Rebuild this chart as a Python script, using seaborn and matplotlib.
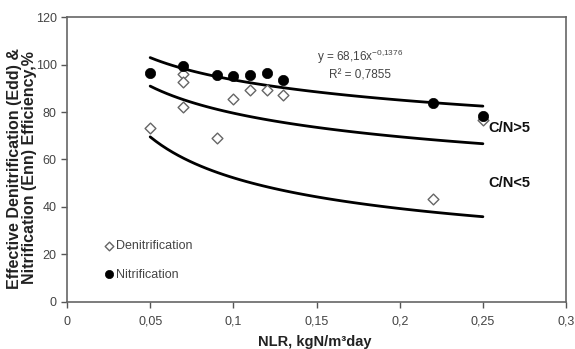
import numpy as np
import pandas as pd
import matplotlib
matplotlib.use("Agg")
import matplotlib.pyplot as plt
import seaborn as sns

# Data
nit_x = [0.05, 0.07, 0.09, 0.10, 0.11, 0.12, 0.13, 0.22, 0.25]
nit_y = [96.3, 99.6, 95.7, 95.0, 95.6, 96.4, 93.6, 83.8, 78.5]

den_x = [0.05, 0.07, 0.07, 0.07, 0.09, 0.10, 0.11, 0.12, 0.13, 0.22, 0.25]
den_y = [73.3, 96.2, 92.6, 82.3, 69.2, 85.6, 89.3, 89.3, 87.3, 43.2, 76.6]

# Power trendlines y = a * x^b  (top one from the printed equation)
trend_names = ["Nitrification fit", "C/N>5 fit", "C/N<5 fit"]
trend_a = [68.16, 51.0, 20.3]
trend_b = [-0.1376, -0.193, -0.411]
trend_x0 = [0.05, 0.05, 0.05]
trend_x1 = [0.25, 0.25, 0.25]

x_ticks = [0, 0.05, 0.1, 0.15, 0.2, 0.25, 0.3]
x_tick_labels = ["0", "0,05", "0,1", "0,15", "0,2", "0,25", "0,3"]
y_ticks = [0, 20, 40, 60, 80, 100, 120]

sns.set_theme(style="white")
plt.rcParams['font.family'] = ['Liberation Sans', 'DejaVu Sans']
plt.rcParams['mathtext.fontset'] = 'custom'
plt.rcParams['mathtext.rm'] = 'Liberation Sans'
plt.rcParams['mathtext.it'] = 'Liberation Sans:italic'
plt.rcParams['mathtext.bf'] = 'Liberation Sans:bold'

fig = plt.figure(figsize=(5.75, 3.49), dpi=100)
ax = fig.add_axes([0.1165, 0.135, 0.868, 0.816])

rows = []
for n, a, b, x0, x1 in zip(trend_names, trend_a, trend_b, trend_x0, trend_x1):
    xs = np.linspace(x0, x1, 60)
    for xv in xs:
        rows.append({"x": xv, "y": a * xv ** b, "curve": n})
tdf = pd.DataFrame(rows)
sns.lineplot(data=tdf, x="x", y="y", units="curve", estimator=None,
             color="black", linewidth=2.0, ax=ax, legend=False)

den_df = pd.DataFrame({"x": den_x, "y": den_y})
nit_df = pd.DataFrame({"x": nit_x, "y": nit_y})
sns.scatterplot(data=den_df, x="x", y="y", marker="D", s=30,
                facecolor="white", edgecolor="#666666", linewidth=1.0,
                ax=ax, label="Denitrification", zorder=3)
sns.scatterplot(data=nit_df, x="x", y="y", marker="o", s=55,
                color="black", edgecolor="black", linewidth=0.5,
                ax=ax, label="Nitrification", zorder=4)

ax.set_xlim(0, 0.3)
ax.set_ylim(0, 120)
ax.set_xticks(x_ticks)
ax.set_xticklabels(x_tick_labels)
ax.set_yticks(y_ticks)
ax.tick_params(axis="both", direction="out", length=4, width=1,
               colors="#555555", labelsize=9, labelcolor="#444444",
               bottom=True, left=True)
ax.tick_params(axis="x", pad=6)
for s in ax.spines.values():
    s.set_color("#666666")
    s.set_linewidth(1.2)

ax.set_xlabel("NLR, kgN/m³day", fontsize=10.5, fontweight="bold",
              color="#222222")
ax.xaxis.set_label_coords(0.497, -0.115)
ax.set_ylabel("Effective Denitrification (Edd) &\nNitrification (Enn) Efficiency,%",
              fontsize=11.5, fontweight="bold", color="#222222",
              linespacing=1.05)
ax.yaxis.label.set_verticalalignment("center")
ax.yaxis.set_label_coords(-0.09, 0.47)

ax.text(0.176, 103.4, "y = 68,16x$^{-0{,}1376}$", ha="center", va="center",
        fontsize=8.5, color="#444444")
ax.text(0.176, 95.4, "R² = 0,7855", ha="center", va="center",
        fontsize=8.5, color="#444444")
ax.text(0.2535, 73.4, "C/N>5", ha="left", va="center", fontsize=10.5,
        fontweight="bold", color="#111111")
ax.text(0.2535, 50.0, "C/N<5", ha="left", va="center", fontsize=10.5,
        fontweight="bold", color="#111111")

leg = ax.legend(loc="lower left", bbox_to_anchor=(0.05, 0.035), frameon=False,
                fontsize=9, handletextpad=0.0, handlelength=1.0,
                labelspacing=1.3, markerscale=0.8)
for t in leg.get_texts():
    t.set_color("#444444")

fig.savefig("out.png", dpi=100)
